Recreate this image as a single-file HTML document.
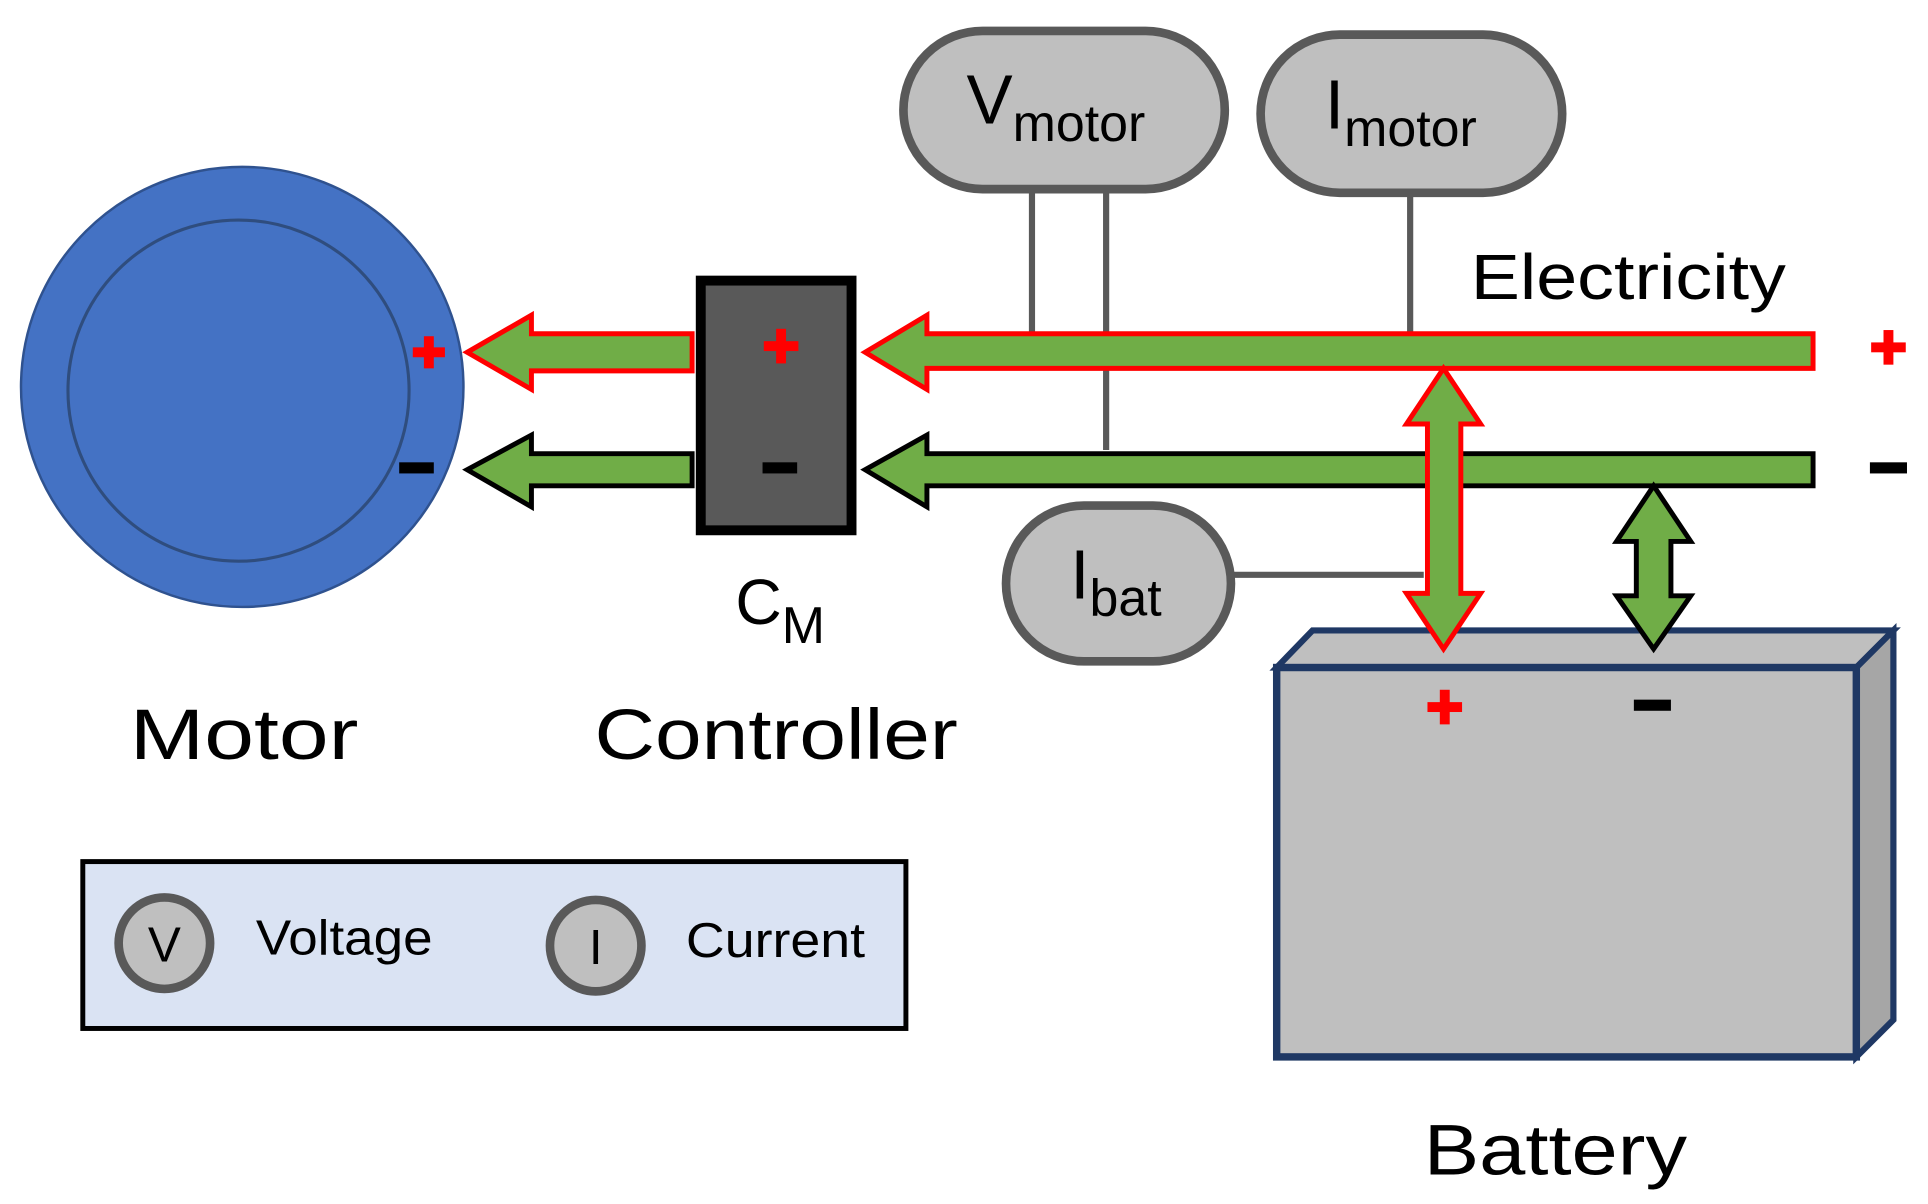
<!DOCTYPE html>
<html><head><meta charset="utf-8"><style>
html,body{margin:0;padding:0;background:#fff;}
svg{display:block;}
text{font-family:"Liberation Sans",sans-serif;fill:#000;}
</style></head><body>
<svg width="1928" height="1204" viewBox="0 0 1560 974" preserveAspectRatio="none" xmlns="http://www.w3.org/2000/svg">
<!-- Motor -->
<ellipse cx="196" cy="313" rx="179" ry="178" fill="#4472c4" stroke="#2f528f" stroke-width="2"/>
<circle cx="193" cy="316" r="138" fill="none" stroke="#2f4d7e" stroke-width="2.5"/>
<g fill="#ff0000"><rect x="334" y="281" width="26" height="8"/><rect x="343" y="272" width="8" height="26"/></g>
<rect x="323" y="374" width="28" height="9" fill="#000"/>
<!-- short arrows -->
<polygon points="560,270 430,270 430,255 378,285 430,315 430,300 560,300" fill="#70ad47" stroke="#ff0000" stroke-width="4"/>
<polygon points="560,367 430,367 430,352 378,380 430,410 430,393 560,393" fill="#70ad47" stroke="#000" stroke-width="4"/>
<!-- Controller -->
<rect x="567" y="227" width="122" height="202" fill="#595959" stroke="#000" stroke-width="8"/>
<g fill="#ff0000"><rect x="618" y="276" width="28" height="8"/><rect x="628" y="266" width="8" height="28"/></g>
<rect x="617" y="374" width="28" height="9" fill="#000"/>
<!-- gray lines -->
<g stroke="#595959" stroke-width="5" fill="none">
<line x1="835" y1="150" x2="835" y2="270"/>
<line x1="895" y1="150" x2="895" y2="364"/>
<line x1="1141" y1="155" x2="1141" y2="270"/>
<line x1="995" y1="465" x2="1152" y2="465"/>
</g>
<!-- long arrows -->
<polygon points="1467,270 750,270 750,255 700,285 750,315 750,298 1467,298" fill="#70ad47" stroke="#ff0000" stroke-width="4"/>
<polygon points="1467,367 750,367 750,352 700,380 750,410 750,393 1467,393" fill="#70ad47" stroke="#000" stroke-width="4"/>
<g fill="#ff0000"><rect x="1514" y="277" width="28" height="8"/><rect x="1524" y="267" width="8" height="28"/></g>
<rect x="1513" y="374" width="30" height="9" fill="#000"/>
<text x="1190" y="242" font-size="52" textLength="255" lengthAdjust="spacingAndGlyphs">Electricity</text>
<!-- pills -->
<rect x="731" y="25" width="260" height="128" rx="64" fill="#bfbfbf" stroke="#595959" stroke-width="7"/>
<text x="782" y="100" font-size="56">V<tspan font-size="42" dy="14">motor</tspan></text>
<rect x="1020" y="28" width="244" height="128" rx="64" fill="#bfbfbf" stroke="#595959" stroke-width="7"/>
<text x="1072" y="104" font-size="56">I<tspan font-size="42" dy="14">motor</tspan></text>
<rect x="814" y="409" width="182" height="126" rx="63" fill="#bfbfbf" stroke="#595959" stroke-width="7"/>
<text x="866" y="484" font-size="56">I<tspan font-size="42" dy="14">bat</tspan></text>
<!-- Battery -->
<polygon points="1033,540 1062,510 1532,510 1502,540" fill="#bfbfbf" stroke="#1f3864" stroke-width="5"/>
<polygon points="1502,540 1532,510 1532,825 1502,855" fill="#a6a6a6" stroke="#1f3864" stroke-width="5"/>
<rect x="1033" y="540" width="469" height="315" fill="#bfbfbf" stroke="#1f3864" stroke-width="6"/>
<g fill="#ff0000"><rect x="1155" y="568" width="28" height="8"/><rect x="1165" y="558" width="8" height="28"/></g>
<rect x="1322" y="566" width="30" height="9" fill="#000"/>
<!-- vertical double arrows -->
<polygon points="1168,298 1198,343 1182,343 1182,480 1198,480 1168,525 1138,480 1155,480 1155,343 1138,343" fill="#70ad47" stroke="#ff0000" stroke-width="4"/>
<polygon points="1338,393 1368,438 1352,438 1352,482 1368,482 1338,525 1308,482 1324,482 1324,438 1308,438" fill="#70ad47" stroke="#000" stroke-width="4"/>
<!-- labels -->
<text x="595" y="505" font-size="52">C<tspan font-size="42" dy="15">M</tspan></text>
<text x="105" y="614" font-size="58" textLength="185" lengthAdjust="spacingAndGlyphs">Motor</text>
<text x="481" y="614" font-size="58" textLength="294" lengthAdjust="spacingAndGlyphs">Controller</text>
<text x="1152" y="950" font-size="58" textLength="213" lengthAdjust="spacingAndGlyphs">Battery</text>
<!-- legend -->
<rect x="67" y="697" width="666" height="135" fill="#dae3f3" stroke="#000" stroke-width="4"/>
<circle cx="133" cy="763" r="37" fill="#bfbfbf" stroke="#595959" stroke-width="7"/>
<text x="133" y="778" font-size="40" text-anchor="middle">V</text>
<text x="207" y="772" font-size="40" textLength="143" lengthAdjust="spacingAndGlyphs">Voltage</text>
<circle cx="482" cy="765" r="37" fill="#bfbfbf" stroke="#595959" stroke-width="7"/>
<text x="482" y="780" font-size="40" text-anchor="middle">I</text>
<text x="555" y="774" font-size="40" textLength="145" lengthAdjust="spacingAndGlyphs">Current</text>
</svg>
</body></html>
